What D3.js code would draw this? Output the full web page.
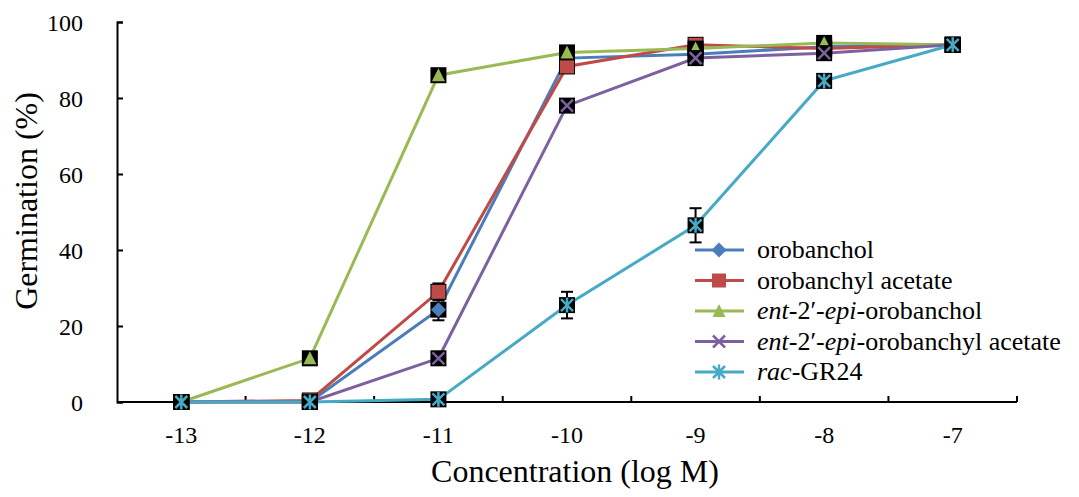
<!DOCTYPE html>
<html>
<head>
<meta charset="utf-8">
<script src="https://cdn.jsdelivr.net/npm/d3@7"></script>
<style>
body { margin: 0; background: #fff; }
</style>
</head>
<body>
<div id="chart"></div>
<script>
var concentrations = ["-13", "-12", "-11", "-10", "-9", "-8", "-7"];
var yTicks = [0, 20, 40, 60, 80, 100];

var orobanchol = [0, 0, 24.3, 90.5, 91.5, 93.5, 94];
var orobanchylAcetate = [0, 0.4, 29, 88.3, 94, 93, 94];
var entEpiOrobanchol = [0, 11.5, 86, 92, 93, 94.5, 94];
var entEpiAcetate = [0, 0, 11.5, 78, 90.5, 91.8, 94];
var racGR24 = [0, 0, 0.7, 25.5, 46.5, 84.5, 94];

// error bars (only the ones that show outside the markers)
var orobancholErr = [0, 0, 2.8, 0, 0, 0, 0];
var orobanchylAcetateErr = [0, 0, 2.2, 0, 0, 0, 0];
var racGR24Err = [0, 0, 0, 3.5, 4.5, 0, 0];

var series = [
  {name: "orobanchol", values: orobanchol, err: orobancholErr, color: "#4a7ebb", shape: "diamond"},
  {name: "orobanchyl acetate", values: orobanchylAcetate, err: orobanchylAcetateErr, color: "#be4b48", shape: "square"},
  {name: "ent-2′-epi-orobanchol", values: entEpiOrobanchol, err: null, color: "#98b954", shape: "triangle"},
  {name: "ent-2′-epi-orobanchyl acetate", values: entEpiAcetate, err: null, color: "#7d60a0", shape: "cross"},
  {name: "rac-GR24", values: racGR24, err: racGR24Err, color: "#46aac5", shape: "star"}
];

var serif = "'Liberation Serif'";

var margin = {top: 22, right: 62, bottom: 95, left: 117},
    width = 1079 - margin.left - margin.right,
    height = 497 - margin.top - margin.bottom;

var svg = d3.select("#chart").append("svg")
    .attr("width", 1079)
    .attr("height", 497)
    .append("g")
    .attr("transform", "translate(" + margin.left + "," + margin.top + ")");

var x = d3.scaleBand()
    .domain(concentrations)
    .range([0, width]);

var y = d3.scaleLinear()
    .domain([0, 100])
    .range([height, 0]);

function cx(i) { return x(concentrations[i]) + x.bandwidth() / 2; }

// y axis, ticks pointing inside
var yAxis = d3.axisLeft(y).tickValues(yTicks).tickSize(-6);
var gy = svg.append("g").call(yAxis);
gy.select(".domain").attr("stroke", "#000").attr("stroke-width", 2);
gy.selectAll(".tick line").attr("stroke", "#000").attr("stroke-width", 2);
gy.selectAll(".tick text")
    .attr("x", -34)
    .attr("dy", "0.36em")
    .style("font-size", "24px")
    .style("font-family", serif)
    .attr("fill", "#000");

// x axis: ticks between categories, pointing up
var gx = svg.append("g").attr("transform", "translate(0," + height + ")");
gx.append("line").attr("x1", 0).attr("x2", width).attr("stroke", "#000").attr("stroke-width", 2);
gx.selectAll(".sep")
    .data(concentrations)
    .enter().append("line")
    .attr("x1", d => x(d) + x.bandwidth())
    .attr("x2", d => x(d) + x.bandwidth())
    .attr("y1", 0).attr("y2", -6)
    .attr("stroke", "#000").attr("stroke-width", 2);
gx.selectAll(".lab")
    .data(concentrations)
    .enter().append("text")
    .attr("x", d => x(d) + x.bandwidth() / 2)
    .attr("y", 41)
    .attr("text-anchor", "middle")
    .style("font-size", "24px")
    .style("font-family", serif)
    .text(d => d);

// axis titles
svg.append("text")
    .attr("transform", "translate(-80,179) rotate(-90)")
    .attr("text-anchor", "middle")
    .style("font-size", "32px")
    .style("font-family", serif)
    .text("Germination (%)");

svg.append("text")
    .attr("x", width / 2 + 8)
    .attr("y", height + 80)
    .attr("text-anchor", "middle")
    .style("font-size", "32px")
    .style("font-family", serif)
    .text("Concentration (log M)");

var line = d3.line()
    .x((d, i) => cx(i))
    .y(d => y(d));

// lines
series.forEach(function (s) {
  svg.append("path")
      .datum(s.values)
      .attr("fill", "none")
      .attr("stroke", s.color)
      .attr("stroke-width", 3)
      .attr("d", line);
});

// error bars
series.forEach(function (s) {
  if (!s.err) return;
  s.values.forEach(function (v, i) {
    var e = s.err[i];
    if (!e) return;
    var g = svg.append("g").attr("stroke", "#000").attr("stroke-width", 2);
    g.append("line").attr("x1", cx(i)).attr("x2", cx(i)).attr("y1", y(v - e)).attr("y2", y(v + e));
    g.append("line").attr("x1", cx(i) - 6).attr("x2", cx(i) + 6).attr("y1", y(v - e)).attr("y2", y(v - e));
    g.append("line").attr("x1", cx(i) - 6).attr("x2", cx(i) + 6).attr("y1", y(v + e)).attr("y2", y(v + e));
  });
});

function drawMarker(g, shape, color, withBox) {
  if (withBox) {
    g.append("rect").attr("x", -8).attr("y", -8).attr("width", 16).attr("height", 16).attr("fill", "#000");
  }
  if (shape === "diamond") {
    g.append("path").attr("d", "M0,-7.5L7.5,0L0,7.5L-7.5,0Z").attr("fill", color);
  } else if (shape === "square") {
    g.append("rect").attr("x", -7).attr("y", -7).attr("width", 14).attr("height", 14).attr("fill", color);
  } else if (shape === "triangle") {
    g.append("path").attr("d", "M0,-7L6.5,6L-6.5,6Z").attr("fill", color);
  } else if (shape === "cross") {
    g.append("path").attr("d", "M-6,-6L6,6M6,-6L-6,6").attr("stroke", color).attr("stroke-width", 2.5);
  } else if (shape === "star") {
    g.append("path").attr("d", "M-6,-6L6,6M6,-6L-6,6M0,-7.5L0,7.5").attr("stroke", color).attr("stroke-width", 2.5);
  }
}

// markers
series.forEach(function (s) {
  s.values.forEach(function (v, i) {
    var g = svg.append("g").attr("transform", "translate(" + cx(i) + "," + y(v) + ")");
    drawMarker(g, s.shape, s.color, true);
  });
});

// legend
var legend = svg.append("g").attr("transform", "translate(" + (695 - margin.left) + "," + (250 - margin.top) + ")");
var rowH = 30.5;
series.forEach(function (s, i) {
  var r = legend.append("g").attr("transform", "translate(0," + (i * rowH) + ")");
  r.append("line").attr("x1", 0).attr("x2", 49).attr("stroke", s.color).attr("stroke-width", 3);
  var m = r.append("g").attr("transform", "translate(24,0)");
  drawMarker(m, s.shape, s.color, false);
  var t = r.append("text").attr("x", 62).attr("y", 8)
      .style("font-size", "26px")
      .style("font-family", serif);
  var parts = s.name.match(/^(ent|rac)(-2′-)?(epi)?(.*)$/);
  if (parts) {
    t.append("tspan").style("font-style", "italic").text(parts[1]);
    if (parts[2]) t.append("tspan").text(parts[2]);
    if (parts[3]) t.append("tspan").style("font-style", "italic").text(parts[3]);
    t.append("tspan").text(parts[4]);
  } else {
    t.text(s.name);
  }
});
</script>
</body>
</html>
